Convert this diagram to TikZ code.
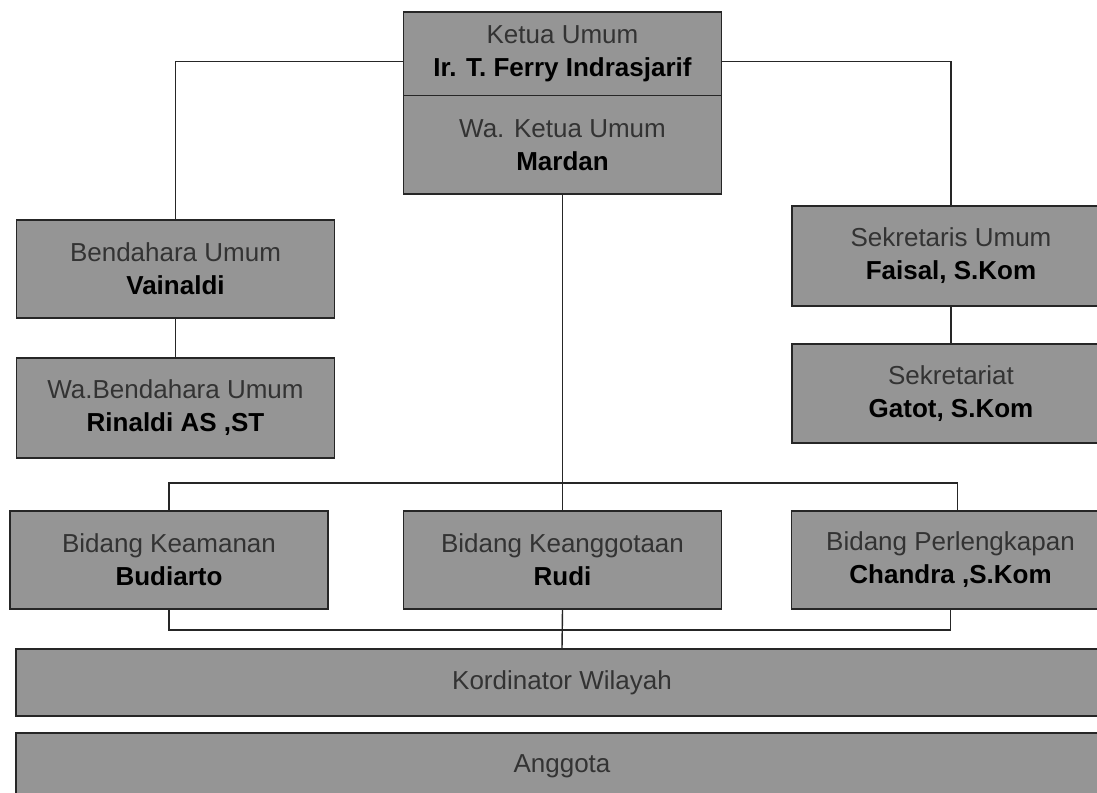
\documentclass[tikz,border=0pt]{standalone}
\usepackage{fontspec}
\setmainfont{Liberation Sans}

\begin{document}
\begin{tikzpicture}[x=1pt,y=-1pt,
  box/.style={draw=black!85, line width=1.4pt, fill=orggray, minimum width=318pt,
    align=center, inner sep=0pt, font=\fontsize{26}{33}\selectfont},
  link/.style={draw=black!85, line width=1.4pt}]
\definecolor{orggray}{HTML}{959595}
\useasboundingbox [fill=white] (0,0) rectangle (1097,792);
% pimpinan
\node[box, minimum height=83.5pt] (ketua)   at (562.5,53.75)  {\textcolor{black!80}{Ketua Umum}\\\textbf{Ir. T. Ferry Indrasjarif}};
\node[box, minimum height=98.5pt] (waketua) at (562.5,144.75) {\textcolor{black!80}{Wa. Ketua Umum}\\\textbf{Mardan}};
% bendahara & sekretaris
\node[box, minimum height=98pt] (bendum)  at (175.5,269) {\textcolor{black!80}{Bendahara Umum}\\\textbf{Vainaldi}};
\node[box, minimum height=100pt] (wabend) at (175.5,408) {\textcolor{black!80}{Wa.Bendahara Umum}\\\textbf{Rinaldi AS ,ST}};
\node[box, minimum height=100pt] (sekum)  at (951,256)   {\textcolor{black!80}{Sekretaris Umum}\\\textbf{Faisal, S.Kom}};
\node[box, minimum height=99pt] (sekre)   at (951,393.5) {\textcolor{black!80}{Sekretariat}\\\textbf{Gatot, S.Kom}};
% bidang
\node[box, minimum height=98pt] (bkeam)  at (169,560)   {\textcolor{black!80}{Bidang Keamanan}\\\textbf{Budiarto}};
\node[box, minimum height=98pt] (bkeang) at (562.5,560) {\textcolor{black!80}{Bidang Keanggotaan}\\\textbf{Rudi}};
\node[box, minimum height=98pt] (bper)   at (950.5,560) {\textcolor{black!80}{Bidang Perlengkapan}\\\textbf{Chandra ,S.Kom}};
% wilayah & anggota
\node[box, minimum width=1092pt, minimum height=67pt] (kord) at (562,682.5) {\textcolor{black!80}{Kordinator Wilayah}};
\node[box, minimum width=1092pt, minimum height=67pt] (angg) at (562,766.5) {\textcolor{black!80}{Anggota}};
% garis
\draw[link] ([yshift=-8pt]ketua.west) -| (bendum.north);
\draw[link] ([yshift=-8pt]ketua.east) -| (sekum.north);
\draw[link] (bendum.south) -- (wabend.north);
\draw[link] (sekum.south) -- (sekre.north);
\coordinate (jtop) at (waketua.south |- 0,483);
\coordinate (jbot) at (bkeang.south |- 0,630);
\draw[link] (waketua.south) -- (jtop);
\draw[link] (bkeam.north) |- ([xshift=7pt]bper.north |- jtop) -- ([xshift=7pt]bper.north);
\draw[link] (jtop) -- (bkeang.north);
\draw[link] (bkeam.south) |- (bper.south |- jbot) -- (bper.south);
\draw[link] (bkeang.south) -- (kord.north);
\end{tikzpicture}
\end{document}
